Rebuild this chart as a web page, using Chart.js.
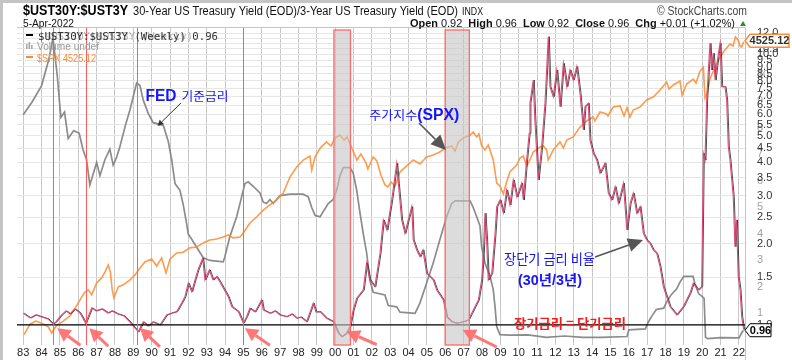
<!DOCTYPE html>
<html><head><meta charset="utf-8">
<script src="https://cdn.jsdelivr.net/npm/chart.js@4.4.1/dist/chart.umd.min.js"></script>
<style>
html,body{margin:0;padding:0;background:#fff;}
canvas{display:block;}
</style></head><body>
<canvas id="c" width="792" height="360"></canvas>
<script>
// ---------------- data ----------------
const ratioYears = [1983.00,1983.37,1983.69,1984.02,1984.35,1984.62,1984.78,1985.09,1985.33,1985.55,
1985.82,1986.09,1986.40,1986.73,1986.96,1987.29,1987.62,1987.83,1988.16,1988.49,
1988.81,1989.03,1989.27,1989.54,1989.80,1990.07,1990.45,1990.81,1991.10,1991.36,
1991.63,1991.81,1991.99,1992.18,1992.36,1992.52,1992.78,1992.90,1993.14,1993.34,
1993.54,1993.72,1993.90,1994.17,1994.36,1994.72,1994.99,1995.17,1995.35,1995.63,
1995.99,1996.08,1996.44,1996.72,1996.99,1997.35,1997.64,1997.90,1998.13,1998.44,
1998.80,1998.95,1999.17,1999.53,1999.89,2000.17,2000.35,2000.62,2000.80,2000.98,
2001.17,2001.53,2001.71,2001.89,2002.16,2002.44,2002.62,2002.82,2003.08,2003.35,
2003.44,2003.62,2003.80,2003.98,2004.17,2004.25,2004.44,2004.62,2004.78,2004.98,
2005.34,2005.53,2005.89,2006.07,2006.35,2006.62,2006.98,2007.25,2007.44,2007.62,
2007.80,2007.98,2008.07,2008.16,2008.25,2008.34,2008.53,2008.71,2008.80,2008.98,
2009.16,2009.34,2009.52,2009.70,2009.90,2010.16,2010.25,2010.43,2010.57,2010.61,
2010.79,2010.88,2011.06,2011.25,2011.43,2011.61,2011.70,2011.88,2012.07,2012.25,
2012.43,2012.62,2012.79,2012.97,2013.16,2013.34,2013.52,2013.61,2013.79,2013.88,
2014.06,2014.25,2014.43,2014.70,2014.88,2015.07,2015.25,2015.43,2015.70,2015.89,
2016.07,2016.24,2016.43,2016.61,2016.79,2016.97,2017.15,2017.33,2017.52,2017.70,
2017.88,2018.24,2018.61,2018.97,2019.33,2019.51,2019.78,2019.97,2020.06,2020.15,
2020.24,2020.42,2020.51,2020.60,2020.70,2020.88,2020.97,2021.06,2021.24,2021.33,
2021.42,2021.51,2021.69,2021.78,2021.87,2021.96,2022.06,2022.15,2022.26];
const ratioValues = [1.105,1.061,1.089,1.070,1.052,1.009,1.026,1.089,1.127,1.098,
1.146,1.107,1.015,1.156,1.127,1.146,1.107,1.127,1.098,1.080,
1.026,0.983,0.945,1.026,0.991,1.026,1.000,1.089,1.107,1.120,
1.206,1.272,1.426,1.328,1.467,1.597,1.764,1.467,1.597,1.467,
1.508,1.442,1.370,1.272,1.169,1.120,1.015,1.073,1.153,1.117,
1.237,1.136,1.105,1.127,1.089,1.073,1.098,1.059,1.070,1.028,
1.203,1.117,1.120,1.059,1.028,0.932,0.905,0.932,0.986,1.136,
1.255,1.347,1.691,1.467,1.385,1.840,2.444,2.245,2.897,3.960,
3.340,2.444,2.180,2.444,2.737,2.061,1.893,1.788,1.893,1.553,
1.467,1.347,1.237,1.073,1.028,1.015,1.028,1.043,1.105,1.169,
1.237,1.467,1.840,2.588,2.061,1.467,1.553,2.180,2.737,2.897,
2.594,3.155,2.777,3.435,2.972,3.340,2.897,4.072,5.110,6.600,
8.040,5.725,3.435,4.560,6.600,11.63,7.600,6.980,8.760,6.410,
9.270,7.600,8.760,8.040,9.010,7.180,5.260,6.410,6.600,4.830,
4.310,4.070,3.640,3.960,3.070,2.897,3.245,2.817,3.340,2.245,
2.817,3.070,2.588,2.737,2.180,2.061,2.004,1.893,1.840,1.642,
1.385,1.169,1.089,1.169,1.310,1.426,1.347,1.385,4.310,4.070,
6.790,10.99,8.760,10.10,8.040,10.10,10.99,7.600,7.600,6.790,
4.560,4.070,2.980,1.947,2.444,1.508,1.347,1.073,0.960];

const spxYears = [1983.04,1983.37,1983.69,1984.00,1984.36,1984.55,1984.82,1985.18,1985.55,1985.82,
1986.00,1986.18,1986.36,1986.54,1986.73,1987.00,1987.27,1987.45,1987.63,1987.75,
1987.85,1987.94,1988.18,1988.45,1988.81,1989.09,1989.36,1989.63,1990.00,1990.27,
1990.54,1990.78,1991.00,1991.36,1991.72,1992.08,1992.45,1992.81,1993.17,1993.54,
1993.90,1994.17,1994.44,1994.81,1994.99,1995.35,1995.72,1996.08,1996.44,1996.81,
1997.17,1997.53,1997.90,1998.26,1998.62,1998.72,1998.90,1999.18,1999.53,1999.77,
1999.99,2000.26,2000.48,2000.64,2000.91,2001.18,2001.40,2001.68,2001.78,2002.07,
2002.27,2002.49,2002.71,2002.87,2003.04,2003.26,2003.53,2003.89,2004.25,2004.62,
2004.98,2005.34,2005.70,2005.99,2006.35,2006.53,2006.71,2006.98,2007.35,2007.52,
2007.71,2007.83,2007.98,2008.16,2008.34,2008.61,2008.71,2008.80,2008.98,2009.16,
2009.34,2009.52,2009.89,2010.07,2010.25,2010.43,2010.61,2010.79,2011.16,2011.34,
2011.52,2011.61,2011.88,2012.25,2012.43,2012.62,2012.97,2013.34,2013.70,2014.06,
2014.15,2014.43,2014.79,2014.86,2015.15,2015.52,2015.74,2015.90,2016.06,2016.24,
2016.61,2016.97,2017.33,2017.70,2018.06,2018.19,2018.42,2018.79,2018.90,2019.15,
2019.51,2019.66,2019.88,2020.06,2020.15,2020.26,2020.42,2020.79,2021.15,2021.51,
2021.68,2021.81,2021.95,2022.06,2022.15,2022.26];
const spxValues = [144,163,169,165,158,147,161,169,180,197,
209,224,238,244,230,265,281,301,327,301,
244,222,253,259,274,291,316,339,351,323,
355,298,351,377,380,400,404,424,439,444,
455,466,450,455,477,536,575,624,663,703,
763,921,1036,1125,1179,1001,1166,1295,1391,1326,
1457,1510,1423,1475,1295,1125,1207,1086,1012,1166,
1112,943,839,819,868,828,977,1049,1125,1073,
1166,1193,1236,1295,1326,1251,1391,1457,1510,1564,
1475,1528,1326,1266,1342,1125,977,858,828,754,
868,977,1061,1152,1179,1049,1125,1236,1311,1326,
1266,1125,1266,1391,1295,1423,1475,1658,1780,1866,
1780,1979,1933,1888,2099,2124,1888,2079,1866,2026,
2099,2279,2361,2564,2817,2594,2719,2851,2417,2751,
2917,2784,3205,3359,2334,2445,2917,3521,4009,4404,
4302,4782,4616,4302,4251,4525.12];

const fedYears = [1983.00,1983.50,1984.00,1984.40,1984.62,1984.85,1985.05,1985.25,1985.45,1985.75,
1986.05,1986.25,1986.45,1986.63,1987.00,1987.18,1987.45,1987.72,1987.90,1988.09,
1988.27,1988.55,1988.82,1989.00,1989.18,1989.36,1989.54,1989.81,1990.08,1990.63,
1990.90,1991.09,1991.27,1991.54,1991.72,1991.90,1991.99,1992.18,1992.45,1992.81,
1993.17,1993.90,1993.99,1994.26,1994.63,1994.90,1995.08,1995.26,1995.53,1995.90,
1996.08,1996.26,1996.44,1996.62,1996.99,1997.53,1998.26,1998.53,1998.72,1998.90,
1999.18,1999.35,1999.62,1999.89,2000.08,2000.26,2000.44,2000.81,2000.98,2001.17,
2001.35,2001.53,2001.71,2001.89,2002.07,2002.71,2002.89,2003.35,2003.53,2004.35,
2004.62,2004.98,2005.34,2005.71,2006.07,2006.35,2006.53,2007.35,2007.52,2007.71,
2007.89,2007.98,2008.16,2008.44,2008.61,2008.71,2008.80,2008.98,2009.50,2010.50,
2011.50,2012.50,2013.50,2014.50,2015.90,2016.00,2016.90,2017.05,2017.25,2017.50,
2017.90,2018.05,2018.30,2018.60,2018.80,2019.00,2019.50,2019.60,2019.80,2020.10,
2020.18,2020.30,2021.00,2022.00,2022.20,2022.26];
const fedValues = [8.5,9.0,9.6,10.6,11.4,10.0,8.4,8.6,7.6,7.9,
7.8,7.2,6.8,5.85,6.7,6.2,6.8,7.2,6.6,6.9,
7.3,8.05,8.7,9.2,9.7,9.6,9.05,8.55,8.2,8.1,
7.5,6.8,5.9,5.65,5.1,4.4,4.0,3.8,3.5,3.1,
3.0,2.95,3.15,3.9,4.65,5.4,5.9,5.97,5.8,5.55,
5.2,5.15,5.3,5.15,5.45,5.5,5.5,5.4,5.0,4.7,
4.65,4.85,5.15,5.3,5.65,6.2,6.5,6.5,6.3,5.65,
4.8,4.0,3.3,2.25,1.8,1.7,1.3,1.25,1.05,1.0,
1.4,2.15,2.9,3.8,4.65,5.15,5.25,5.25,5.0,4.65,
4.3,3.5,2.9,2.4,1.9,1.25,0.5,0.2,0.18,0.19,
0.1,0.15,0.1,0.1,0.13,0.38,0.42,0.66,0.9,1.15,
1.2,1.42,1.7,1.92,2.2,2.4,2.4,2.12,1.75,1.58,
0.1,0.05,0.09,0.08,0.33,0.33];

const yearTicks = [1983,1984,1985,1986,1987,1988,1989,1990,1991,1992,1993,1994,1995,1996,1997,1998,1999,2000,2001,2002,2003,2004,2005,2006,2007,2008,2009,2010,2011,2012,2013,2014,2015,2016,2017,2018,2019,2020,2021,2022];
const ratioTicks = [1.0,1.5,2.0,2.5,3.0,3.5,4.0,4.5,5.0,5.5,6.0,6.5,7.0,7.5,8.0,8.5,9.0,9.5,10.0,10.5,11.0,11.5,12.0];
const fedTicks = [1,2,3,4,5,6,7,8,9,10];
const markerYears = [1984.64,1986.40,1989.21,1994.99];
const shadedPeriods = [[1999.93,2000.83],[2005.99,2007.31]];
const crossArrows = [[1984.86,0.972,23,17],[1986.60,0.972,19,18],[1989.36,0.975,20,19],[1995.08,0.972,25,17],[2000.63,0.945,30,13],[2006.95,0.958,34,17]];

// ---------------- helpers ----------------
const W = 792, H = 360;
const toXY = (xs, ys) => xs.map((x, i) => ({x: x, y: ys[i]}));
function drawArrow(ctx, x1, y1, x2, y2, color, lw, headLen, headW) {
  const ang = Math.atan2(y2 - y1, x2 - x1);
  const bx = x2 - headLen * Math.cos(ang), by = y2 - headLen * Math.sin(ang);
  ctx.strokeStyle = color; ctx.lineWidth = lw; ctx.lineCap = 'butt';
  ctx.beginPath(); ctx.moveTo(x1, y1); ctx.lineTo(bx, by); ctx.stroke();
  ctx.fillStyle = color; ctx.beginPath(); ctx.moveTo(x2, y2);
  ctx.lineTo(bx + headW * Math.sin(ang), by - headW * Math.cos(ang));
  ctx.lineTo(bx - headW * Math.sin(ang), by + headW * Math.cos(ang));
  ctx.closePath(); ctx.fill();
}
function fitText(ctx, text, x, y, font, color, width) {
  ctx.save();
  ctx.font = font; ctx.fillStyle = color; ctx.textAlign = 'left'; ctx.textBaseline = 'alphabetic';
  const m = ctx.measureText(text).width;
  ctx.translate(x, y);
  if (width) ctx.scale(width / m, 1);
  ctx.fillText(text, 0, 0);
  ctx.restore();
}
const SANS = '"Liberation Sans", Arial, sans-serif';
const KR = '"Noto Sans CJK KR", "Liberation Sans", sans-serif';
const MIX = '"Liberation Sans", "Noto Sans CJK KR", sans-serif';

const annot = {
  id: 'annot',
  beforeDraw(chart) {
    const ctx = chart.ctx;
    ctx.save();
    ctx.fillStyle = '#fff'; ctx.fillRect(0, 0, W, H);
    ctx.fillStyle = '#c4c4c4'; ctx.fillRect(0, 0, W, 3); ctx.fillRect(0, 0, 3, H);
    const fs = chart.scales.yFed;
    ctx.font = '11px ' + SANS; ctx.fillStyle = '#a0a0a0'; ctx.textBaseline = 'middle'; ctx.textAlign = 'left';
    fedTicks.forEach(v => ctx.fillText(String(v), 757, fs.getPixelForValue(v)));
    ctx.restore();
  },
  beforeDatasetDraw(chart, args) {
    if (chart.data.datasets[args.index].label === 'ratioShadow') { chart.ctx.save(); chart.ctx.translate(1.0, 0); }
  },
  afterDatasetDraw(chart, args) {
    if (chart.data.datasets[args.index].label === 'ratioShadow') { chart.ctx.restore(); }
  },
  afterDatasetsDraw(chart) {
    const ctx = chart.ctx, a = chart.chartArea, x = chart.scales.x;
    ctx.save();
    shadedPeriods.forEach(p => {
      const x1 = x.getPixelForValue(p[0]), x2 = x.getPixelForValue(p[1]);
      ctx.fillStyle = 'rgba(196,196,196,0.6)';
      ctx.fillRect(x1, a.top + 3, x2 - x1, a.bottom - a.top - 3);
      ctx.strokeStyle = '#ff6868'; ctx.lineWidth = 1.3;
      ctx.strokeRect(x1, a.top + 3, x2 - x1, a.bottom - a.top - 3);
    });
    markerYears.forEach(yr => {
      const px = Math.round(x.getPixelForValue(yr)) + 0.5;
      ctx.strokeStyle = '#ff5c5c'; ctx.lineWidth = 1;
      ctx.beginPath(); ctx.moveTo(px, a.top); ctx.lineTo(px, a.bottom); ctx.stroke();
    });
    ctx.strokeStyle = '#c4c4c4'; ctx.lineWidth = 1;
    ctx.beginPath();
    ctx.moveTo(a.left, a.top + 0.5); ctx.lineTo(a.right + 0.5, a.top + 0.5);
    ctx.lineTo(a.right + 0.5, H);
    ctx.stroke();
    ctx.restore();
  },
  afterDraw(chart) {
    const ctx = chart.ctx, s = chart.scales;
    ctx.save();
    // header
    fitText(ctx, '$UST30Y:$UST3Y', 23, 15, 'bold 14px ' + SANS, '#000', 105);
    fitText(ctx, '30-Year US Treasury Yield (EOD)/3-Year US Treasury Yield (EOD)', 133, 15, '12px ' + SANS, '#111', 325);
    fitText(ctx, 'INDX', 462, 15, '11px ' + SANS, '#111', 21);
    fitText(ctx, '5-Apr-2022', 23, 27, '11px ' + SANS, '#111', 51);
    fitText(ctx, '\u00A9 StockCharts.com', 657, 15, '12px ' + SANS, '#444', 90);
    // OHLC row
    const parts = [['Open ', 1], ['0.92  ', 0], ['High ', 1], ['0.96  ', 0], ['Low ', 1], ['0.92  ', 0], ['Close ', 1], ['0.96  ', 0], ['Chg ', 1], ['+0.01 (+1.02%)', 0]];
    let tw = 0;
    parts.forEach(p => { ctx.font = (p[1] ? 'bold ' : '') + '11px ' + SANS; tw += ctx.measureText(p[0]).width; });
    ctx.save(); ctx.translate(410, 27); ctx.scale(325 / tw, 1);
    let cx = 0;
    parts.forEach(p => { ctx.font = (p[1] ? 'bold ' : '') + '11px ' + SANS; ctx.fillStyle = '#111'; ctx.fillText(p[0], cx, 0); cx += ctx.measureText(p[0]).width; });
    ctx.restore();
    ctx.fillStyle = '#2e8b2e'; ctx.beginPath(); ctx.moveTo(740, 26); ctx.lineTo(746, 26); ctx.lineTo(743, 21); ctx.closePath(); ctx.fill();
    // legend
    ctx.fillStyle = '#000'; ctx.fillRect(26, 34, 7, 2);
    fitText(ctx, '$UST30Y:$UST3Y (Weekly)', 45, 40, '11px "DejaVu Sans Mono", monospace', 'rgba(90,90,90,0.45)', 148);
    fitText(ctx, '$UST30Y:$UST3Y (Weekly) 0.96', 38, 40, '11px "DejaVu Sans Mono", monospace', '#333', 180);
    ctx.fillStyle = '#aaa'; ctx.fillRect(26, 44, 1.6, 5); ctx.fillRect(28.5, 42, 1.6, 7); ctx.fillRect(31, 45, 1.6, 4);
    fitText(ctx, 'Volume undef', 37, 50, '11px ' + SANS, '#999', 62);
    ctx.fillStyle = '#ff8c32'; ctx.fillRect(26, 56, 7, 2);
    fitText(ctx, '$SPX 4525.12', 37, 61.5, '11px ' + SANS, '#ff8c32', 59);
    // annotations
    const BLUE = '#1414ff';
    fitText(ctx, 'FED', 145.5, 100.7, 'bold 16px ' + SANS, BLUE, 31);
    fitText(ctx, '기준금리', 181.5, 101, '12px ' + KR, BLUE, 47);
    drawArrow(ctx, 181, 103, 157.5, 126, '#333', 1, 6, 3);
    fitText(ctx, '주가지수', 369.3, 119.5, '12px ' + KR, BLUE, 48);
    fitText(ctx, '(SPX)', 417.3, 120, 'bold 16px ' + SANS, BLUE, 42);
    drawArrow(ctx, 419, 123, 446, 150, '#555', 1.5, 15, 7);
    fitText(ctx, '장단기 금리 비율', 504, 264, '14px ' + KR, BLUE, 91);
    fitText(ctx, '(30년/3년)', 518, 284.5, 'bold 14px ' + MIX, BLUE, 64);
    drawArrow(ctx, 595, 257, 643, 240, '#555', 1.5, 15, 7);
    fitText(ctx, '장기금리 = 단기금리', 514, 328, 'bold 13px ' + KR, '#ff1a1a', 112);
    // crossing arrows
    crossArrows.forEach(c => {
      const hx = s.x.getPixelForValue(c[0]), hy = s.y.getPixelForValue(c[1]);
      drawArrow(ctx, hx + c[2], hy + c[3], hx, hy, 'rgba(255,105,105,0.9)', 3, 13, 7);
    });
    // value callouts
    const sy = s.ySpx.getPixelForValue(spxValues[spxValues.length - 1]) - 1;
    ctx.fillStyle = '#fff'; ctx.strokeStyle = '#ff8c32'; ctx.lineWidth = 1.5;
    ctx.beginPath(); ctx.moveTo(745, sy); ctx.lineTo(750, sy - 6.5); ctx.lineTo(789, sy - 6.5); ctx.lineTo(789, sy + 6.5); ctx.lineTo(750, sy + 6.5); ctx.closePath(); ctx.fill(); ctx.stroke();
    ctx.font = 'bold 11px ' + SANS; ctx.fillStyle = '#333'; ctx.textAlign = 'center'; ctx.textBaseline = 'middle';
    ctx.fillText(String(spxValues[spxValues.length - 1]), 769.5, sy + 0.5);
    const ry = s.y.getPixelForValue(ratioValues[ratioValues.length - 1]) + 0.5;
    ctx.fillStyle = '#fff'; ctx.strokeStyle = '#000'; ctx.lineWidth = 1;
    ctx.beginPath(); ctx.moveTo(745, ry); ctx.lineTo(750, ry - 6.5); ctx.lineTo(771, ry - 6.5); ctx.lineTo(771, ry + 6.5); ctx.lineTo(750, ry + 6.5); ctx.closePath(); ctx.fill(); ctx.stroke();
    ctx.font = 'bold 11px ' + SANS; ctx.fillStyle = '#000'; ctx.textAlign = 'center';
    ctx.fillText(ratioValues[ratioValues.length - 1].toFixed(2), 760.5, ry + 0.5);
    ctx.restore();
  }
};

new Chart(document.getElementById('c'), {
  type: 'line',
  data: {datasets: [
    {label: 'ratio', data: toXY(ratioYears, ratioValues), yAxisID: 'y', borderColor: 'rgba(218,64,112,0.95)', borderWidth: 1.1, pointRadius: 0, tension: 0, order: 1},
    {label: 'ratioShadow', data: toXY(ratioYears, ratioValues), yAxisID: 'y', borderColor: 'rgba(40,40,40,0.9)', borderWidth: 0.9, pointRadius: 0, tension: 0, order: 1.5},
    {label: 'spx', data: toXY(spxYears, spxValues), yAxisID: 'ySpx', borderColor: 'rgba(255,138,45,0.85)', borderWidth: 1.6, pointRadius: 0, tension: 0, order: 2},
    {label: 'fed', data: toXY(fedYears, fedValues), yAxisID: 'yFed', borderColor: 'rgba(128,128,128,0.9)', borderWidth: 1.7, pointRadius: 0, tension: 0, order: 3},
    {label: 'par', data: [{x: 1982.66, y: 1}, {x: 2022.33, y: 1}], yAxisID: 'y', borderColor: '#000', borderWidth: 1.3, pointRadius: 0, order: 0}
  ]},
  options: {
    responsive: false, animation: false, events: [],
    layout: {padding: {left: 17, top: 27, right: 0, bottom: 0}},
    plugins: {legend: {display: false}, tooltip: {enabled: false}},
    scales: {
      x: {type: 'linear', min: 1982.66, max: 2022.33,
          afterBuildTicks: sc => { sc.ticks = yearTicks.map(v => ({value: v})); },
          afterFit: sc => { sc.height = 15; },
          ticks: {autoSkip: false, maxRotation: 0, padding: 1, color: '#222', font: {size: 11, family: SANS},
                  callback: v => String(v % 100).padStart(2, '0')},
          grid: {color: '#c8c8c8', drawTicks: false, lineWidth: 1}, border: {display: false}},
      y: {type: 'logarithmic', position: 'right', min: 0.843, max: 12.63,
          afterBuildTicks: sc => { sc.ticks = ratioTicks.map(v => ({value: v})); },
          afterFit: sc => { sc.width = 47; },
          ticks: {autoSkip: false, padding: 7, color: '#333', font: {size: 11, family: SANS},
                  callback: v => Number(v).toFixed(1)},
          grid: {color: '#e6e6e6', drawTicks: true, tickLength: 5, tickColor: 'rgba(0,0,0,0)'}, border: {display: false}},
      ySpx: {type: 'logarithmic', display: false, min: 127.6, max: 5380},
      yFed: {type: 'linear', display: false, min: -0.19, max: 11.81}
    }
  },
  plugins: [annot]
});
</script>
</body></html>
